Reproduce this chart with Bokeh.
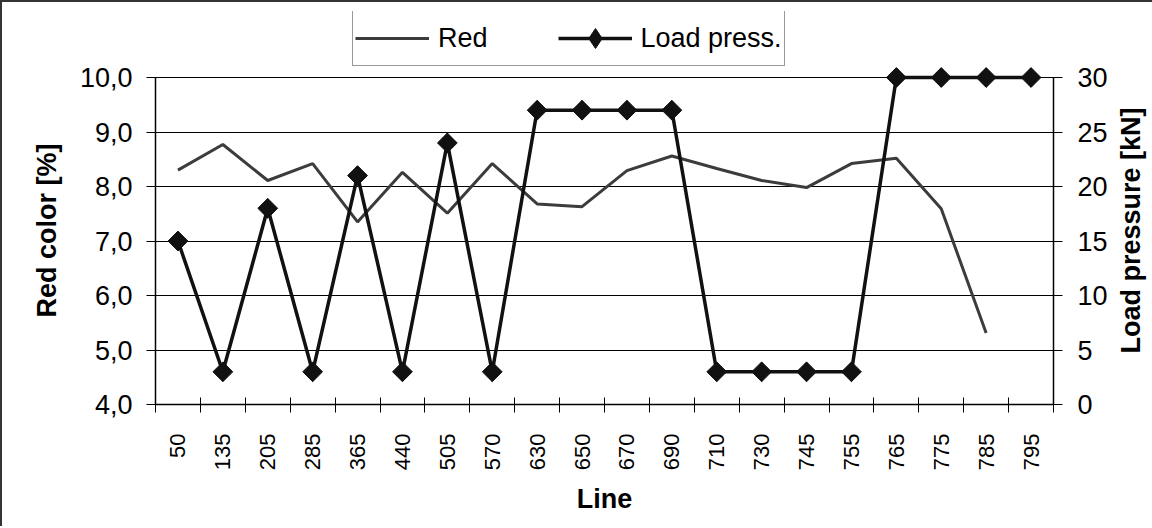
import math
import numpy as np
from bokeh.plotting import figure
from bokeh.layouts import row
from bokeh.models import (Range1d, LinearAxis, FixedTicker, Legend, LegendItem,
                          CustomJSTickFormatter, Label)
from bokeh.embed import file_html
from bokeh.resources import INLINE

# ---------------- data ----------------
lines = ["50", "135", "205", "285", "365", "440", "505", "570", "630", "650",
         "670", "690", "710", "730", "745", "755", "765", "775", "785", "795"]
red_color = [8.30, 8.77, 8.11, 8.42, 7.35, 8.26, 7.51, 8.42, 7.68, 7.63,
             8.29, 8.56, 8.33, 8.11, 7.98, 8.42, 8.52, 7.59, 5.31, float("nan")]
load_press = [15, 3, 18, 3, 21, 3, 24, 3, 27, 27,
              27, 27, 3, 3, 3, 3, 30, 30, 30, 30]
red_ticks = [4, 5, 6, 7, 8, 9, 10]
load_ticks = [0, 5, 10, 15, 20, 25, 30]
left_title = "Red color [%]"
right_title = "Load pressure [kN]"
x_title = "Line"

FONT = "Liberation Sans"
n = len(lines)
xpos = list(np.arange(n) + 0.5)
boundaries = list(range(n + 1))

H = 524
# layout: frame spans legend headroom (66 px) + plot area (327 px)
HEAD_PX, PLOT_PX = 66.0, 327.0
red_top = red_ticks[-1] + (red_ticks[-1] - red_ticks[0]) * HEAD_PX / PLOT_PX
load_top = load_ticks[-1] + (load_ticks[-1] - load_ticks[0]) * HEAD_PX / PLOT_PX

p = figure(width=1038, height=H,
           x_range=Range1d(0, n), y_range=Range1d(red_ticks[0], red_top),
           output_backend="svg", toolbar_location=None,
           min_border_left=83, min_border_right=56,
           min_border_top=9, min_border_bottom=122)
p.background_fill_color = "white"
p.border_fill_color = "white"
p.outline_line_color = None

p.extra_y_ranges = {"load": Range1d(load_ticks[0], load_top)}

# grid
p.xgrid.grid_line_color = None
p.ygrid.ticker = FixedTicker(ticks=red_ticks)
p.ygrid.grid_line_color = "black"
p.ygrid.grid_line_width = 1

# x axis
xa = p.xaxis[0]
xa.ticker = FixedTicker(ticks=xpos, minor_ticks=boundaries)
xa.formatter = CustomJSTickFormatter(args=dict(labels=lines),
                                     code="const i = Math.round(tick - 0.5); return (i >= 0 && i < labels.length) ? labels[i] : '';")
xa.major_tick_in = 0
xa.major_tick_out = 0
xa.major_tick_line_color = None
xa.minor_tick_in = 7
xa.minor_tick_out = 8
xa.minor_tick_line_color = "black"
xa.minor_tick_line_width = 1
xa.major_label_orientation = math.pi / 2
xa.major_label_standoff = 21
xa.major_label_text_font = FONT
xa.major_label_text_font_size = "22px"
xa.major_label_text_color = "black"
xa.axis_label = x_title
xa.axis_label_text_font = FONT
xa.axis_label_text_font_size = "27px"
xa.axis_label_text_font_style = "bold"
xa.axis_label_text_color = "black"
xa.axis_label_standoff = 11
xa.axis_line_color = "black"
xa.axis_line_width = 1.5

# left axis
ya = p.yaxis[0]
ya.ticker = FixedTicker(ticks=red_ticks)
ya.bounds = (red_ticks[0], red_ticks[-1])
ya.formatter = CustomJSTickFormatter(code="return tick.toFixed(1).replace('.', ',');")
ya.major_tick_in = 10
ya.major_tick_out = 9
ya.major_tick_line_color = "black"
ya.minor_tick_line_color = None
ya.major_label_standoff = 14
ya.major_label_text_font = FONT
ya.major_label_text_font_size = "27px"
ya.major_label_text_color = "black"
ya.axis_line_color = "black"
ya.axis_line_width = 1.5

# right axis
ra = LinearAxis(y_range_name="load", ticker=FixedTicker(ticks=load_ticks))
ra.bounds = (load_ticks[0], load_ticks[-1])
ra.major_tick_in = 11
ra.major_tick_out = 9
ra.major_tick_line_color = "black"
ra.minor_tick_line_color = None
ra.major_label_standoff = 15
ra.major_label_text_font = FONT
ra.major_label_text_font_size = "27px"
ra.major_label_text_color = "black"
ra.axis_line_color = "black"
ra.axis_line_width = 1.5
p.add_layout(ra, "right")

# series
r_red = p.line(xpos, red_color, line_color="#3c3c3c", line_width=3)
r_load = p.line(xpos, load_press, y_range_name="load", line_color="#111111", line_width=3.5)
# narrow diamond underneath (used as legend swatch), covered by the rotated squares
r_dia = p.scatter(xpos, load_press, y_range_name="load", marker="diamond", size=19,
                  fill_color="#111111", line_color="#111111")
r_mark = p.scatter(xpos, load_press, y_range_name="load", marker="square", size=14,
                   angle=math.pi / 4, fill_color="#111111", line_color="#111111")

legend = Legend(items=[LegendItem(label="Red", renderers=[r_red]),
                       LegendItem(label="Load press.", renderers=[r_load, r_dia])],
                orientation="horizontal", location=(197, 338))
legend.label_text_font = FONT
legend.label_text_font_size = "27px"
legend.label_text_color = "black"
legend.border_line_color = "#333333"
legend.border_line_width = 1.5
legend.background_fill_color = "white"
legend.background_fill_alpha = 1.0
legend.glyph_width = 74
legend.glyph_height = 50
legend.label_standoff = 9
legend.spacing = 70
legend.padding = 2
legend.margin = 0
p.add_layout(legend)


def title_strip(width, cx, cy_from_top, text):
    s = figure(width=width, height=H, x_range=Range1d(0, width), y_range=Range1d(0, H),
               output_backend="svg", toolbar_location=None, min_border=0,
               x_axis_type=None, y_axis_type=None)
    s.outline_line_color = None
    s.background_fill_color = "white"
    s.border_fill_color = "white"
    s.grid.visible = False
    s.add_layout(Label(x=cx, y=H - cy_from_top, text=text, angle=math.pi / 2,
                       text_align="center", text_baseline="middle",
                       text_font=FONT, text_font_size="27px", text_font_style="bold",
                       text_color="black"))
    return s


left_strip = title_strip(70, 44, 292, left_title)
right_strip = title_strip(42, 20, 292, right_title)

layout = row(left_strip, p, right_strip, spacing=0)
layout.styles = {"border-left": "2px solid #333333", "border-top": "2px solid #333333"}

open("out.html", "w").write(file_html(layout, INLINE))
